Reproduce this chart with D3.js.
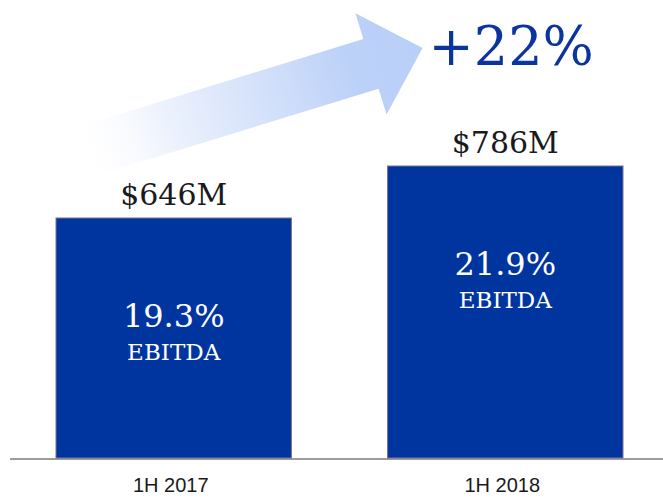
<!DOCTYPE html>
<html>
<head>
<meta charset="utf-8">
<script src="https://cdn.jsdelivr.net/npm/d3@7"></script>
<style>
  body { margin: 0; background: #fff; }
</style>
</head>
<body>
<script>
var periods = ["1H 2017", "1H 2018"];
var ebitda = [646, 786];          // $M
var margins = [19.3, 21.9];       // EBITDA margin %

var width = 663, height = 498;
var base = 458;

var x = d3.scaleBand()
    .domain(periods)
    .range([56, 623])
    .paddingInner(0.29)
    .paddingOuter(0);

var y = d3.scaleLinear()
    .domain([0, 1000])
    .range([base, base - 371.5]);

var svg = d3.select("body").append("svg")
    .attr("width", width)
    .attr("height", height);

var defs = svg.append("defs");
var grad = defs.append("linearGradient")
    .attr("id", "arrowGrad")
    .attr("x1", "0%").attr("y1", "0%")
    .attr("x2", "100%").attr("y2", "0%");
grad.append("stop").attr("offset", "0%").attr("stop-color", "#ffffff").attr("stop-opacity", 0);
grad.append("stop").attr("offset", "25%").attr("stop-color", "#eef3fd");
grad.append("stop").attr("offset", "80%").attr("stop-color", "#bcd1f8");
grad.append("stop").attr("offset", "100%").attr("stop-color", "#b8cff9");

// growth arrow, tail above first bar, tip just before the growth label
var x0 = x(periods[0]) + 19, y0 = y(ebitda[0]) - 63;
var x1 = x(periods[1]) + 35, y1 = y(ebitda[1]) - 118;
var len = Math.sqrt((x1 - x0) * (x1 - x0) + (y1 - y0) * (y1 - y0));
var ang = Math.atan2(y1 - y0, x1 - x0) * 180 / Math.PI;
var headLen = 54, shaftW = 26, headW = 53;

svg.append("g")
    .attr("transform", "translate(" + x0 + "," + y0 + ") rotate(" + ang + ")")
  .append("path")
    .attr("d", "M0," + (-shaftW) +
        "L" + (len - headLen) + "," + (-shaftW) +
        "L" + (len - headLen) + "," + (-headW) +
        "L" + len + ",0" +
        "L" + (len - headLen) + "," + headW +
        "L" + (len - headLen) + "," + shaftW +
        "L0," + shaftW + "Z")
    .attr("fill", "url(#arrowGrad)");

var growth = Math.round((ebitda[1] / ebitda[0] - 1) * 100);
svg.append("text")
    .attr("x", x1 + 6)
    .attr("y", y1 + 17)
    .attr("font-family", "DejaVu Serif")
    .attr("font-size", 54)
    .attr("fill", "#0b349e")
    .text("+" + growth + "%");

// baseline
svg.append("line")
    .attr("x1", 10).attr("x2", width)
    .attr("y1", base + 1).attr("y2", base + 1)
    .attr("stroke", "#9c9c98")
    .attr("stroke-width", 2);

svg.selectAll("rect.bar")
    .data(ebitda)
    .enter().append("rect")
    .attr("class", "bar")
    .attr("x", function(d, i){return x(periods[i]);})
    .attr("y", function(d){return y(d);})
    .attr("width", x.bandwidth())
    .attr("height", function(d){return base - y(d);})
    .attr("fill", "#00359f")
    .attr("stroke", "#7c6e98")
    .attr("stroke-width", 1);

var fmt = function(d){return "$" + d + "M";};

svg.selectAll("text.val")
    .data(ebitda)
    .enter().append("text")
    .attr("class", "val")
    .attr("x", function(d, i){return x(periods[i]) + x.bandwidth() / 2;})
    .attr("y", function(d){return y(d) - 13;})
    .attr("text-anchor", "middle")
    .attr("font-family", "DejaVu Serif")
    .attr("font-size", 30)
    .attr("fill", "#1a1a1a")
    .text(fmt);

svg.selectAll("text.pct")
    .data(margins)
    .enter().append("text")
    .attr("class", "pct")
    .attr("x", function(d, i){return x(periods[i]) + x.bandwidth() / 2;})
    .attr("y", function(d, i){return y(ebitda[i]) + 109;})
    .attr("text-anchor", "middle")
    .attr("font-family", "DejaVu Serif")
    .attr("font-size", 32)
    .attr("fill", "#ffffff")
    .text(function(d){return d.toFixed(1) + "%";});

svg.selectAll("text.lbl")
    .data(margins)
    .enter().append("text")
    .attr("class", "lbl")
    .attr("x", function(d, i){return x(periods[i]) + x.bandwidth() / 2;})
    .attr("y", function(d, i){return y(ebitda[i]) + 142;})
    .attr("text-anchor", "middle")
    .attr("font-family", "DejaVu Serif")
    .attr("font-size", 23)
    .attr("fill", "#ffffff")
    .text("EBITDA");

svg.selectAll("text.cat")
    .data(periods)
    .enter().append("text")
    .attr("class", "cat")
    .attr("x", function(d){return x(d) + x.bandwidth() / 2 - 3;})
    .attr("y", base + 34)
    .attr("text-anchor", "middle")
    .attr("font-family", "Liberation Sans, Arial, sans-serif")
    .attr("font-size", 20)
    .attr("fill", "#1a1a1a")
    .text(function(d){return d;});
</script>
</body>
</html>
